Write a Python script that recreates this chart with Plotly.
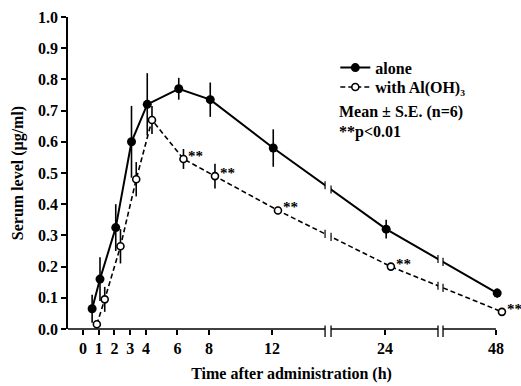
import numpy as np
import plotly.graph_objects as go

# ---- data ----
hours = [0.5, 1, 2, 3, 4, 6, 8, 12, 24, 48]
alone = [0.065, 0.16, 0.325, 0.60, 0.72, 0.77, 0.735, 0.58, 0.32, 0.115]
alone_se = [0.045, 0.07, 0.075, 0.115, 0.10, 0.035, 0.055, 0.06, 0.03, 0.015]
aloh = [0.015, 0.095, 0.265, 0.48, 0.67, 0.545, 0.49, 0.38, 0.20, 0.055]
aloh_se = [0.01, 0.04, 0.055, 0.055, 0.045, 0.032, 0.04, 0.012, 0.008, 0.005]
signif_idx = [5, 6, 7, 8, 9]   # points marked ** (p<0.01)
tick_hours = [0, 1, 2, 3, 4, 6, 8, 12, 24, 48]
tick_labels = ["0", "1", "2", "3", "4", "6", "8", "12", "24", "48"]
y_ticks = [round(0.1 * i, 1) for i in range(11)]

# ---- broken time axis: hours -> display units ----
knot_h = [0, 12, 24, 48]
knot_d = [0, 12, 19.17, 26.22]
breaks = [(15.37, 15.75), (22.54, 22.86)]
XMIN, XMAX = -0.952, 27.43
AXIS_END = 26.22


def disp(h):
    return np.interp(h, knot_h, knot_d)


def frac(d):
    return (d - XMIN) / (XMAX - XMIN)


x_alone = disp(hours) + 0.08
x_aloh = disp(hours) + 0.38

FONT = "Liberation Serif"
BOLD = dict(family=FONT, size=16, color="black", weight="bold")

fig = go.Figure()
fig.add_trace(go.Scatter(
    x=x_alone, y=alone, name="alone", mode="lines+markers",
    line=dict(color="black", width=2),
    marker=dict(color="black", size=9),
    error_y=dict(type="data", array=alone_se, width=0, thickness=1.6, color="black"),
    cliponaxis=False, legend="legend",
))
fig.add_trace(go.Scatter(
    x=x_aloh, y=aloh, name="with Al(OH)₃", mode="lines+markers",
    line=dict(color="black", width=1.6, dash="5px,3px"),
    marker=dict(color="white", size=7, line=dict(color="black", width=1.6)),
    error_y=dict(type="data", array=aloh_se, width=0, thickness=1.6, color="black"),
    cliponaxis=False, legend="legend2",
))

shapes = []
# gaps in the data lines at the axis breaks
for a, b in breaks:
    shapes.append(dict(type="rect", xref="x domain", yref="paper",
                       x0=frac(a), x1=frac(b), y0=0.004, y1=1.0,
                       fillcolor="white", line=dict(width=0), layer="above"))
# break ticks on the data lines
for xs, ys in ((x_alone, alone), (x_aloh, aloh)):
    for a, b in breaks:
        for e in (a, b):
            yv = float(np.interp(e, xs, ys))
            shapes.append(dict(type="line", xref="x domain", yref="y",
                               x0=frac(e), x1=frac(e), y0=yv - 0.013, y1=yv + 0.013,
                               line=dict(color="black", width=1.2), layer="above"))
# x axis segments
seg_edges = [XMIN] + [v for ab in breaks for v in ab] + [AXIS_END]
for i in range(0, len(seg_edges), 2):
    shapes.append(dict(type="line", xref="x domain", yref="paper",
                       x0=frac(seg_edges[i]), x1=frac(seg_edges[i + 1]), y0=0, y1=0,
                       line=dict(color="black", width=1.5), layer="above"))
# break marks on the x axis
for a, b in breaks:
    for e in (a, b):
        shapes.append(dict(type="line", xref="x domain", yref="paper",
                           x0=frac(e), x1=frac(e), y0=0.011, y1=-0.026,
                           line=dict(color="black", width=1.3), layer="above"))

annotations = []
for i in signif_idx:
    annotations.append(dict(x=x_aloh[i], y=aloh[i], xref="x", yref="y", text="**",
                            showarrow=False, xanchor="left", yanchor="middle",
                            xshift=3, yshift=3,
                            font=dict(family=FONT, size=15, color="black", weight="bold")))
annotations.append(dict(x=0.6018, y=0.697, xref="paper", yref="paper",
                        text="Mean ± S.E. (n=6)", showarrow=False,
                        xanchor="left", yanchor="middle", font=BOLD))
annotations.append(dict(x=0.6018, y=0.631, xref="paper", yref="paper",
                        text="**p&lt;0.01", showarrow=False,
                        xanchor="left", yanchor="middle", font=BOLD))

legend_common = dict(x=0.598, xanchor="left", yanchor="top",
                     bgcolor="rgba(0,0,0,0)", itemwidth=30, tracegroupgap=0, font=BOLD)

fig.update_layout(
    width=521, height=386,
    margin=dict(l=68, r=6, t=17, b=57, autoexpand=False),
    plot_bgcolor="white", paper_bgcolor="white",
    font=BOLD,
    showlegend=True,
    legend=dict(y=0.892, **legend_common),
    legend2=dict(y=0.830, **legend_common),
    shapes=shapes,
    annotations=annotations,
)
fig.update_xaxes(
    range=[XMIN, XMAX], showline=False, showgrid=False, zeroline=False,
    automargin=False,
    tickmode="array", tickvals=disp(tick_hours), ticktext=tick_labels,
    ticks="outside", ticklen=5, tickwidth=1.5, tickcolor="black",
    tickfont=BOLD,
    title=dict(text="Time after administration (h)", standoff=11, font=BOLD),
)
fig.update_yaxes(
    range=[0, 1], showline=True, linecolor="black", linewidth=1.5,
    showgrid=False, zeroline=False, automargin=False,
    tickmode="array", tickvals=y_ticks, ticktext=[f"{v:.1f}" for v in y_ticks],
    ticks="outside", ticklen=5, tickwidth=1.5, tickcolor="black",
    tickfont=BOLD,
    title=dict(text="Serum level (μg/ml)", standoff=10, font=BOLD),
)

fig.write_html("out.html", config={"displayModeBar": False},
               post_script="document.body.style.margin='0px';")
